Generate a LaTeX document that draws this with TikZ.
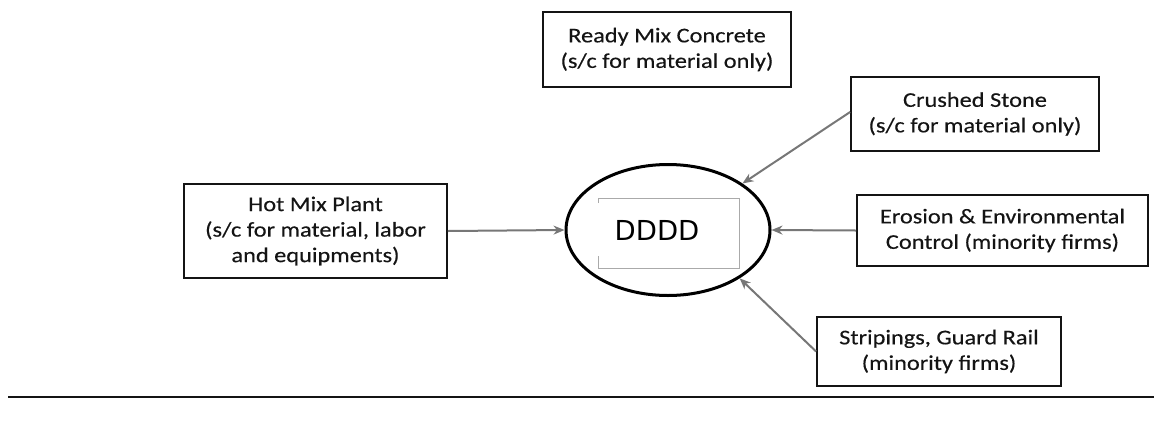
\documentclass[tikz,border=0pt]{standalone}
\usepackage{fontspec}
\setmainfont{Carlito}
\newfontfamily\labelfont[FakeStretch=1.16, FakeBold=0.35]{Carlito}
\newfontfamily\centrefont{DejaVu Sans}
\usetikzlibrary{shapes.geometric,arrows.meta}
\definecolor{inkdark}{HTML}{141414}
\definecolor{arrowgray}{HTML}{777777}
\definecolor{framegray}{HTML}{AAAAAA}
\tikzset{
  labelbox/.style={draw=inkdark, line width=1.8pt, inner sep=0pt, align=center,
    text=inkdark, font=\labelfont\fontsize{21}{25.5}\selectfont},
  feed/.style={draw=arrowgray, line width=2pt,
    -{Stealth[length=11pt, width=9pt, inset=3.5pt]}},
}
\begin{document}
\begin{tikzpicture}[x=1pt, y=-1pt]
\useasboundingbox (0,0) rectangle (1154,432);

% central contractor
\node[ellipse, draw=black, line width=3pt, minimum width=204pt, minimum height=131pt,
      inner sep=0pt] (dd) at (668,230) {};
\node[font=\centrefont\fontsize{27.5}{32}\selectfont, text=black] (ddlabel) at (657,230) {DDDD};
\draw[framegray, line width=1pt] (598,203) -- (598,198) -- (739,198) -- (739,268)
      -- (598,268) -- (598,256);

% subcontractor boxes
\node[labelbox, minimum width=248pt, minimum height=75pt] (rmc) at (667,49.5)
  {Ready Mix Concrete\\(s/c for material only)};
\node[labelbox, minimum width=248pt, minimum height=74pt] (cs) at (975,114)
  {Crushed Stone\\(s/c for material only)};
\node[labelbox, minimum width=291pt, minimum height=71pt] (ec) at (1002.5,230.5)
  {Erosion \& Environmental\\Control (minority firms)};
\node[labelbox, minimum width=244pt, minimum height=69pt] (sg) at (939,351.5)
  {Stripings, Guard Rail\\(minority firms)};
\node[labelbox, minimum width=263pt, minimum height=94pt] (hm) at (315.5,231)
  {Hot Mix Plant\\(s/c for material, labor\\and equipments)};

% connectors
\draw[feed] (hm.east) -- (dd.west);
\draw[feed] ([yshift=2pt]cs.west) -- (dd.32);
\draw[feed] (ec.west) -- (dd.east);
\draw[feed] (sg.west) -- (dd.-34);

% separator rule
\coordinate (ruleL) at (8,397);
\coordinate (ruleR) at (1154,397);
\draw[inkdark, line width=2.2pt] (ruleL) -- (ruleR);
\end{tikzpicture}
\end{document}
